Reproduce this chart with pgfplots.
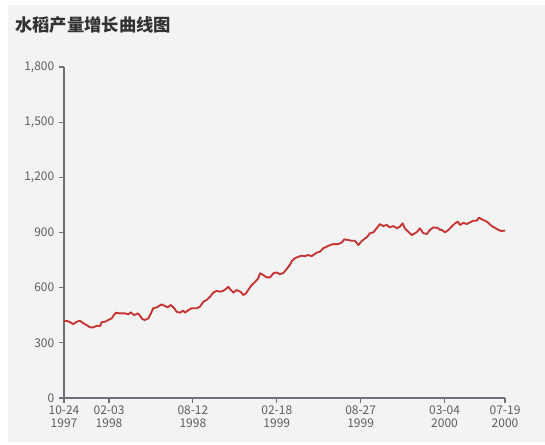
\documentclass[border=0pt]{standalone}
\usepackage{pgfplots}
\pgfplotsset{compat=1.18}
\usepackage{fontspec}
\setmainfont{Noto Sans CJK SC}
\definecolor{bgc}{HTML}{F3F3F3}
\definecolor{axc}{HTML}{6E7079}
\definecolor{labc}{HTML}{5E5E5E}
\definecolor{titlec}{HTML}{333333}
\definecolor{linec}{HTML}{C63434}

\begin{document}
\begin{tikzpicture}[x=0.75pt,y=0.75pt]
\useasboundingbox (0,0) rectangle (545,444);
\fill[white] (0,0) rectangle (545,444);
\fill[bgc] (8,2) rectangle (545,439);
\node[anchor=west, inner sep=0pt, text=titlec, font=\bfseries\fontsize{13}{15}\selectfont] at (15,419.5) {水稻产量增长曲线图};

\begin{axis}[
    at={(48pt,34.5pt)}, anchor=south west,
    scale only axis,
    width=330.75pt, height=248.25pt,
    xmin=0, xmax=999,
    ymin=0, ymax=1800,
    axis lines=left,
    axis line style={-, axc, line width=0.8pt},
    tick style={axc, line width=0.8pt},
    tick align=outside,
    major tick length=3.75pt,
    xtick={0,102,292,482,672,862,999},
    xticklabels={{10-24\\1997},{02-03\\1998},{08-12\\1998},{02-18\\1999},{08-27\\1999},{03-04\\2000},{07-19\\2000}},
    xticklabel style={align=center, font=\fontsize{9}{10}\selectfont, text=labc, inner sep=2pt},
    ytick={0,300,600,900,1200,1500,1800},
    yticklabel style={font=\fontsize{9}{10}\selectfont, text=labc},
    scaled y ticks=false,
    /pgf/number format/.cd, 1000 sep={,}, assume math mode=true,
  ]
  \addplot[linec, line width=1.4pt, line join=round, mark=none] coordinates {
    (0,418) (6,420) (14,412) (21,402) (29,415) (36,420) (44,406) (51,397)
    (59,384) (66,384) (74,392) (82,392) (85,412) (93,415) (100,424) (108,433)
    (113,451) (118,464) (127,460) (138,460) (146,455) (151,466) (159,451) (168,460)
    (174,442) (177,430) (183,424) (191,433) (197,460) (202,488) (210,493) (221,509)
    (229,500) (235,493) (242,506) (250,488) (255,469) (263,464) (270,475) (274,464)
    (282,478) (289,488) (301,488) (308,497) (316,524) (323,533) (331,551) (338,573)
    (346,583) (353,578) (361,583) (369,597) (372,605) (378,587) (384,573) (391,587)
    (400,578) (406,560) (412,569) (417,587) (425,614) (433,632) (440,651) (444,678)
    (451,669) (459,656) (467,656) (474,678) (482,683) (489,673) (497,680) (504,700)
    (512,725) (516,745) (523,760) (531,768) (538,774) (546,771) (553,778) (561,771)
    (572,790) (580,796) (587,814) (595,823) (603,832) (610,837) (621,837) (629,845)
    (635,863) (644,859) (652,855) (659,855) (667,832) (673,850) (682,868) (686,874)
    (693,896) (701,901) (708,923) (716,946) (723,935) (731,941) (738,928) (746,935)
    (754,923) (761,932) (767,950) (772,923) (780,904) (788,886) (795,896) (800,904)
    (806,923) (814,896) (822,892) (829,914) (837,928) (846,925) (852,914) (856,914)
    (863,901) (871,914) (878,932) (886,950) (892,959) (897,941) (905,953) (912,946)
    (920,955) (927,964) (935,964) (940,981) (946,972) (954,964) (961,953) (969,935)
    (976,926) (984,914) (991,908) (997,910) (999,910)
  };
\end{axis}
\end{tikzpicture}
\end{document}
